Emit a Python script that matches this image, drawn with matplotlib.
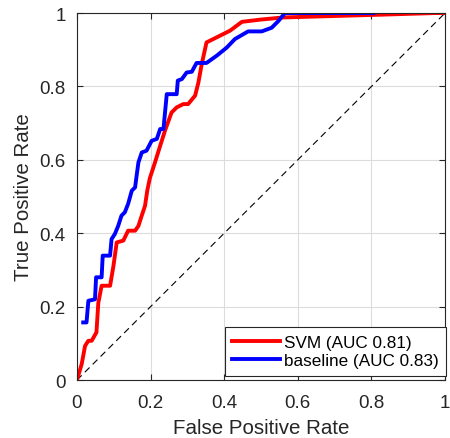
import numpy as np
import matplotlib as mpl
import matplotlib.pyplot as plt

mpl.rcParams['font.family'] = ['Liberation Sans', 'DejaVu Sans']

# ROC points
svm_fpr = [0.0, 0.013, 0.022, 0.031, 0.04, 0.053, 0.058, 0.067, 0.09, 0.099, 0.108,
           0.126, 0.139, 0.158, 0.167, 0.176, 0.185, 0.191, 0.198, 0.212, 0.226,
           0.239, 0.257, 0.271, 0.289, 0.302, 0.321, 0.33, 0.339, 0.352, 0.38,
           0.416, 0.448, 0.497, 0.56, 0.805, 0.973, 1.0]
svm_tpr = [0.0, 0.044, 0.093, 0.107, 0.107, 0.13, 0.21, 0.257, 0.257, 0.31, 0.375,
           0.38, 0.407, 0.407, 0.42, 0.448, 0.475, 0.516, 0.55, 0.593, 0.638,
           0.679, 0.729, 0.743, 0.752, 0.752, 0.775, 0.811, 0.861, 0.92, 0.934,
           0.952, 0.976, 0.982, 0.988, 0.995, 1.0, 1.0]

base_fpr = [0.017, 0.026, 0.031, 0.049, 0.052, 0.067, 0.07, 0.09, 0.094, 0.103,
            0.112, 0.121, 0.13, 0.139, 0.149, 0.158, 0.162, 0.167, 0.176, 0.189,
            0.203, 0.217, 0.226, 0.235, 0.244, 0.271, 0.274, 0.285, 0.298, 0.312,
            0.325, 0.352, 0.38, 0.407, 0.429, 0.465, 0.502, 0.529, 0.547, 0.565,
            0.805]
base_tpr = [0.157, 0.157, 0.216, 0.22, 0.28, 0.28, 0.339, 0.339, 0.384, 0.398,
            0.42, 0.448, 0.457, 0.48, 0.516, 0.525, 0.556, 0.593, 0.62, 0.625,
            0.652, 0.657, 0.684, 0.684, 0.779, 0.779, 0.816, 0.82, 0.838, 0.84,
            0.864, 0.864, 0.884, 0.906, 0.929, 0.95, 0.95, 0.96, 0.978, 1.0,
            1.0]

labels = ['SVM (AUC 0.81)', 'baseline (AUC 0.83)']
ticks = [0, 0.2, 0.4, 0.6, 0.8, 1]
tick_labels = ['0', '0.2', '0.4', '0.6', '0.8', '1']

fig = plt.figure(figsize=(4.5, 4.39), dpi=100)
ax = fig.add_axes([0.171, 0.132, 0.818, 0.836])

ax.plot([0, 1], [0, 1], '--', color='k', lw=0.8, dashes=(6, 4))
ax.plot(svm_fpr, svm_tpr, color='r', lw=2.8, label=labels[0])
ax.plot(base_fpr, base_tpr, color='b', lw=2.8, label=labels[1])

ax.set_xlim(0, 1)
ax.set_ylim(0, 1)
ax.set_xticks(ticks)
ax.set_yticks(ticks)
ax.set_xticklabels(tick_labels)
ax.set_yticklabels(tick_labels)
ax.grid(True, color='#dcdcdc', lw=0.8)
ax.set_axisbelow(True)
ax.tick_params(direction='in', top=True, right=True, labelsize=13.5,
               colors='#262626', length=4, width=0.8, pad=8)
ax.tick_params(axis='x', pad=10)
for s in ax.spines.values():
    s.set_color('#262626')
    s.set_linewidth(0.8)

ax.set_xlabel('False Positive Rate', fontsize=14.8, color='#262626', labelpad=5)
ax.set_ylabel('True Positive Rate', fontsize=14.8, color='#262626', labelpad=5)

leg = ax.legend(loc='lower right', bbox_to_anchor=(1.003, 0.011), fontsize=12.3,
                fancybox=False, framealpha=1, edgecolor='#262626',
                handlelength=2.8, borderpad=0.45, labelspacing=0.2,
                handletextpad=0.2, borderaxespad=0)
leg.get_frame().set_linewidth(0.8)

fig.savefig('out.png', dpi=100)
